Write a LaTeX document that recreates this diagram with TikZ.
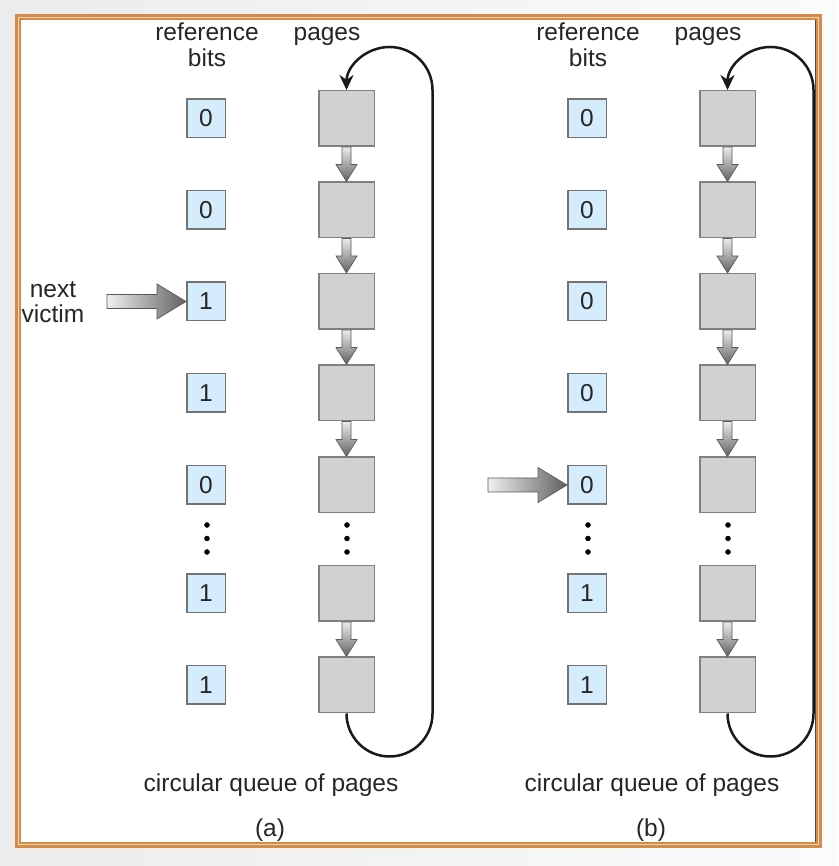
\documentclass[tikz,border=0pt]{standalone}
\usepackage{fontspec}
\setmainfont{Liberation Sans}
\usetikzlibrary{arrows.meta,calc}
\definecolor{framebrown}{RGB}{214,138,74}
\definecolor{framelight}{RGB}{246,216,182}
\definecolor{bitblue}{RGB}{212,236,251}
\definecolor{pagegray}{RGB}{209,209,211}
\tikzset{
  lbl/.style={font=\fontsize{24.5}{27}\selectfont, text=black!85, inner sep=0pt},
  refbit/.style={lbl, draw=black!55, fill=bitblue, line width=1.5pt, minimum width=38.5pt, minimum height=38.5pt},
  pagebox/.style={draw=black!50, fill=pagegray, line width=1.5pt, minimum width=55.5pt, minimum height=55.5pt},
  loopline/.style={line width=2.5pt, draw=black!90},
  fatarrow/.style={draw=black!65, line width=0.7pt},
}
% down arrow from page #1 to page #2
\newcommand{\pagearrow}[2]{%
  \shadedraw[fatarrow, top color=gray!15, bottom color=black!62]
    ($(#1.south)+(-4.5,0)$) -- ($(#1.south)+(4.5,0)$) -- ($(#2.north)+(4.5,17)$) -- ($(#2.north)+(10.5,17)$)
    -- (#2.north) -- ($(#2.north)+(-10.5,17)$) -- ($(#2.north)+(-4.5,17)$) -- cycle;}
% arrow from tail coordinate #1 to bit #2
\newcommand{\victimarrow}[2]{%
  \shadedraw[fatarrow, left color=gray!12, right color=black!62]
    ($(#1)+(0,7)$) -- ($(#2.west)+(-29,7)$) -- ($(#2.west)+(-29,17.5)$) -- (#2.west)
    -- ($(#2.west)+(-29,-17.5)$) -- ($(#2.west)+(-29,-7)$) -- ($(#1)+(0,-7)$) -- cycle;}
\begin{document}
\begin{tikzpicture}[x=1pt,y=1pt]
  \useasboundingbox (0,0) rectangle (838,866);
  \shade[left color=gray!15, right color=gray!3] (0,0) rectangle (838,866); %background
  \fill[white] (15,18) rectangle (822,852);
  \draw[framelight, line width=6pt] (18,21) rectangle (819,849); %frame
  \draw[framebrown, line width=3pt] (16.5,19.5) rectangle (820.5,850.5);
  \draw[framebrown, line width=1.2pt] (20,23) rectangle (817,847);
  \draw[black!70, line width=1pt] (815,24) -- (815,846);

  % (a)
  \node[lbl, anchor=base] (heada) at (207,825) {reference};
  \node[lbl, anchor=base] (headb) at (207,799) {bits};
  \node[lbl, anchor=base] (headc) at (327,825) {pages};

  \node[refbit] (ra0) at (206,747.5) {0}; \node[pagebox] (pa0) at (346.5,747.5) {};
  \node[refbit] (ra1) at (206,656) {0};   \node[pagebox] (pa1) at (346.5,656) {};
  \node[refbit] (ra2) at (206,564.5) {1}; \node[pagebox] (pa2) at (346.5,564.5) {};
  \node[refbit] (ra3) at (206,473) {1};   \node[pagebox] (pa3) at (346.5,473) {};
  \node[refbit] (ra4) at (206,381) {0};   \node[pagebox] (pa4) at (346.5,381) {};
  \node[refbit] (ra5) at (206,272.5) {1}; \node[pagebox] (pa5) at (346.5,272.5) {};
  \node[refbit] (ra6) at (206,181) {1};   \node[pagebox] (pa6) at (346.5,181) {};

  \filldraw[black] (207,341) circle (2.5pt) {};
  \filldraw[black] (207,327.5) circle (2.5pt) {};
  \filldraw[black] (207,314) circle (2.5pt) {};
  \filldraw[black] (347,341) circle (2.5pt) {};
  \filldraw[black] (347,327.5) circle (2.5pt) {};
  \filldraw[black] (347,314) circle (2.5pt) {};

  \pagearrow{pa0}{pa1}
  \pagearrow{pa1}{pa2}
  \pagearrow{pa2}{pa3}
  \pagearrow{pa3}{pa4}
  \pagearrow{pa5}{pa6}
  \draw[loopline, -{Stealth[length=15pt,width=14pt]}] (pa6.south) arc[start angle=180, end angle=360, radius=43]
    -- ($(pa0.north)+(86,0)$) arc[start angle=0, end angle=180, radius=43]; %loop

  \node[lbl, anchor=base] (nexta) at (53,568) {next};
  \node[lbl, anchor=base] (nextb) at (53,543) {victim};
  \coordinate (taila) at ($(ra2.west)+(-79,0)$);
  \victimarrow{taila}{ra2}

  \node[lbl, anchor=base] (capa) at (271,74) {circular queue of pages};
  \node[lbl, anchor=base] (laba) at (270,29) {(a)};

  % (b)
  \node[lbl, anchor=base] (headd) at (588,825) {reference};
  \node[lbl, anchor=base] (heade) at (588,799) {bits};
  \node[lbl, anchor=base] (headf) at (708,825) {pages};

  \node[refbit] (rb0) at (587,747.5) {0}; \node[pagebox] (pb0) at (727.5,747.5) {};
  \node[refbit] (rb1) at (587,656) {0};   \node[pagebox] (pb1) at (727.5,656) {};
  \node[refbit] (rb2) at (587,564.5) {0}; \node[pagebox] (pb2) at (727.5,564.5) {};
  \node[refbit] (rb3) at (587,473) {0};   \node[pagebox] (pb3) at (727.5,473) {};
  \node[refbit] (rb4) at (587,381) {0};   \node[pagebox] (pb4) at (727.5,381) {};
  \node[refbit] (rb5) at (587,272.5) {1}; \node[pagebox] (pb5) at (727.5,272.5) {};
  \node[refbit] (rb6) at (587,181) {1};   \node[pagebox] (pb6) at (727.5,181) {};

  \filldraw[black] (588,341) circle (2.5pt) {};
  \filldraw[black] (588,327.5) circle (2.5pt) {};
  \filldraw[black] (588,314) circle (2.5pt) {};
  \filldraw[black] (728,341) circle (2.5pt) {};
  \filldraw[black] (728,327.5) circle (2.5pt) {};
  \filldraw[black] (728,314) circle (2.5pt) {};

  \pagearrow{pb0}{pb1}
  \pagearrow{pb1}{pb2}
  \pagearrow{pb2}{pb3}
  \pagearrow{pb3}{pb4}
  \pagearrow{pb5}{pb6}
  \draw[loopline, -{Stealth[length=15pt,width=14pt]}] (pb6.south) arc[start angle=180, end angle=360, radius=43]
    -- ($(pb0.north)+(86,0)$) arc[start angle=0, end angle=180, radius=43]; %loop

  \coordinate (tailb) at ($(rb4.west)+(-79,0)$);
  \victimarrow{tailb}{rb4}

  \node[lbl, anchor=base] (capb) at (652,74) {circular queue of pages};
  \node[lbl, anchor=base] (labb) at (651,29) {(b)};
\end{tikzpicture}
\end{document}
